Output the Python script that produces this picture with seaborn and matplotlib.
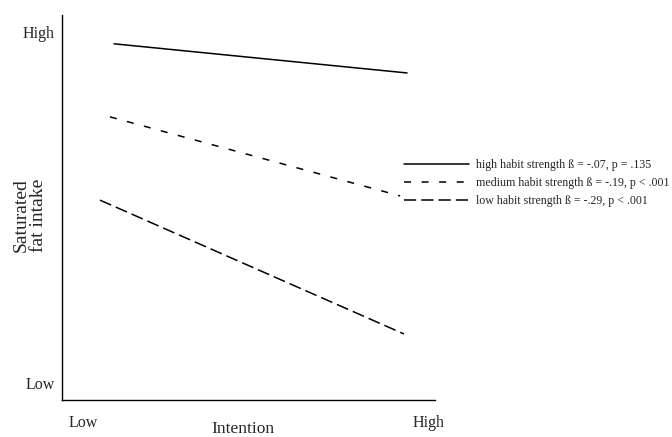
import matplotlib
matplotlib.use("Agg")
import matplotlib.pyplot as plt
import seaborn as sns
import pandas as pd

# ---- data (0 = Low, 1 = High) ----
groups = ["high habit strength \u00df = -.07, p = .135",
          "medium habit strength \u00df = -.19, p < .001",
          "low habit strength \u00df = -.29, p < .001"]
x_high = [0.09, 0.939]
y_high = [0.966, 0.883]
x_medium = [0.078, 0.919]
y_medium = [0.758, 0.533]
x_low = [0.049, 0.930]
y_low = [0.521, 0.140]
x_ticklabels = ["Low", "High"]
y_ticklabels = ["Low", "High"]

df = pd.DataFrame({
    "x": x_high + x_medium + x_low,
    "y": y_high + y_medium + y_low,
    "group": [groups[0]] * 2 + [groups[1]] * 2 + [groups[2]] * 2,
})

sns.set_theme(style="white")
plt.rcParams["font.family"] = ["Liberation Serif", "DejaVu Serif"]

fig = plt.figure(figsize=(6.72, 4.37), dpi=100)
ax = fig.add_axes([62 / 672, 1 - 400 / 437, (435 - 62) / 672, (400 - 15) / 437])

dashes = {groups[0]: "", groups[1]: (4.6, 6.9), groups[2]: (8.0, 3.3)}
sns.lineplot(data=df, x="x", y="y", style="group", dashes=dashes,
             color="black", linewidth=1.1, ax=ax, legend=True)

ax.set_xlim(-0.061, 1.020)
ax.set_ylim(-0.048, 1.048)
ax.set_xticks([0, 1])
ax.set_xticklabels(x_ticklabels, fontsize=11.5)
ax.set_yticks([0, 1])
ax.set_yticklabels(y_ticklabels, fontsize=11.5)
ax.tick_params(axis="y", length=0, pad=5)
ax.tick_params(axis="x", length=0, pad=11)
for s in ["top", "right"]:
    ax.spines[s].set_visible(False)
for s in ["left", "bottom"]:
    ax.spines[s].set_color("black")
    ax.spines[s].set_linewidth(1.0)

ax.set_xlabel("Intention", fontsize=12.5)
ax.xaxis.set_label_coords((243 - 62) / 373, -(429 - 400) / 385, transform=ax.transAxes)
ax.xaxis.label.set_va("center")
ax.set_ylabel("Saturated\nfat intake", fontsize=14, linespacing=1.0)
ax.yaxis.set_label_coords(-(62 - 30) / 373, (400 - 215) / 385, transform=ax.transAxes)
ax.yaxis.label.set_va("center")

leg = ax.get_legend()
leg.remove()
handles, labels = ax.get_legend_handles_labels()
fig.legend(handles, labels, loc="upper left",
           bbox_to_anchor=(404 / 672, 1 - 159 / 437),
           frameon=False, fontsize=8.6, handlelength=5.4,
           handletextpad=0.6, labelspacing=0.5, borderpad=0,
           borderaxespad=0)

fig.savefig("out.png", dpi=100)
